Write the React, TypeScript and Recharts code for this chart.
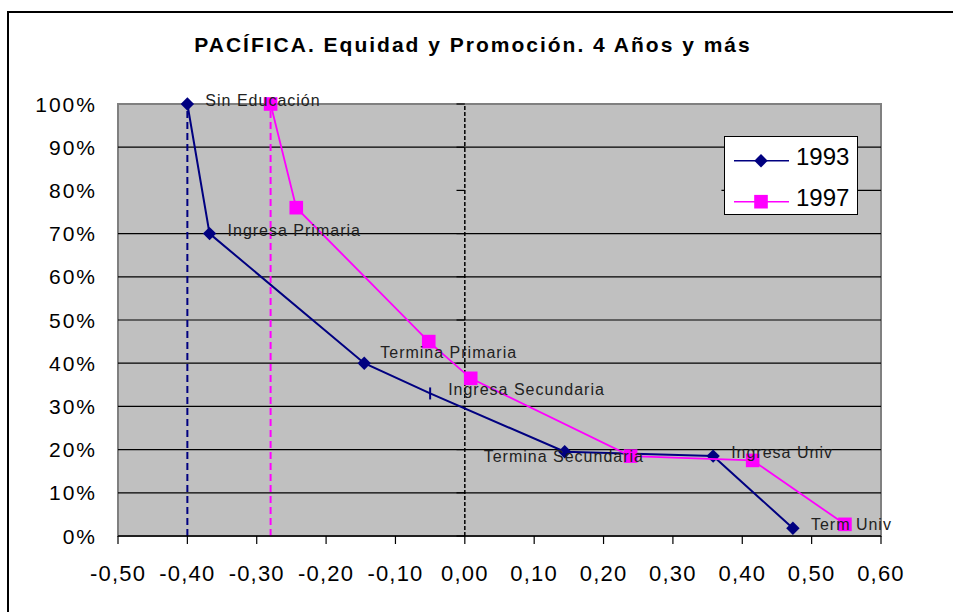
import React from 'react'
import {
  ScatterChart,
  Scatter,
  XAxis,
  YAxis,
  ReferenceLine,
  ReferenceArea
} from 'recharts'

const categories = [
  'Sin Educación',
  'Ingresa Primaria',
  'Termina Primaria',
  'Ingresa Secundaria',
  'Termina Secundaria',
  'Ingresa Univ',
  'Term Univ'
]
const x1993 = [-0.4, -0.368, -0.145, -0.05, 0.144, 0.358, 0.473]
const y1993 = [100, 70, 40, 33, 19.5, 18.5, 1.8]
const x1997 = [-0.28, -0.243, -0.052, 0.0085, 0.239, 0.415, 0.548]
const y1997 = [100, 76, 45, 36.5, 18.5, 17.5, 2.7]

const xTicks = [-0.5, -0.4, -0.3, -0.2, -0.1, 0, 0.1, 0.2, 0.3, 0.4, 0.5, 0.6]
const yTicks = [0, 10, 20, 30, 40, 50, 60, 70, 80, 90, 100]
// 80% gridline only shows to the right of the legend in the original
const gridValues = [10, 20, 30, 40, 50, 60, 70, 90]

const start1993 = -0.4
const start1997 = -0.28

const NAVY = '#000080'
const MAGENTA = '#FF00FF'
const FONT = '"Liberation Sans", Arial, sans-serif'

const data1993 = categories.map((name, i) => ({ name, x: x1993[i], y: y1993[i] }))
const data1997 = categories.map((name, i) => ({ name, x: x1997[i], y: y1997[i] }))

// label nudges (px) relative to the point, default is right of the marker
const labelNudge: Record<string, [number, number]> = {
  'Termina Primaria': [16, -5],
  'Termina Secundaria': [-81, 10]
}

function DiamondShape(props: any) {
  const { cx, cy, payload } = props
  if (payload && payload.name === 'Ingresa Secundaria') {
    return <line x1={cx} x2={cx} y1={cy - 6} y2={cy + 6} stroke={NAVY} strokeWidth={2} />
  }
  const r = 6.7
  return (
    <polygon
      points={`${cx},${cy - r} ${cx + r},${cy} ${cx},${cy + r} ${cx - r},${cy}`}
      fill={NAVY}
    />
  )
}

function SquareShape(props: any) {
  const { cx, cy } = props
  const r = 6.8
  return <rect x={cx - r} y={cy - r} width={r * 2} height={r * 2} fill={MAGENTA} />
}

function LabelShape(props: any) {
  const { cx, cy, payload } = props
  const [dx, dy] = labelNudge[payload.name] || [18, 2]
  return (
    <text
      x={cx + dx}
      y={cy + dy}
      fontSize={16}
      letterSpacing={1}
      fill="#222"
      fontFamily={FONT}
    >
      {payload.name}
    </text>
  )
}

function XTick(props: any) {
  const { x, y, payload } = props
  const label = payload.value.toFixed(2).replace('.', ',')
  return (
    <text x={x} y={y} dy={35} textAnchor="middle" fontSize={22} letterSpacing={1.2} fill="#000" fontFamily={FONT}>
      {label}
    </text>
  )
}

function YTick(props: any) {
  const { x, y, payload } = props
  return (
    <text x={x + 2} y={y} dy={7.5} textAnchor="end" fontSize={21} letterSpacing={2} fill="#000" fontFamily={FONT}>
      {payload.value}%
    </text>
  )
}

function LegendBox() {
  return (
    <div
      style={{
        position: 'absolute',
        left: 724,
        top: 136,
        width: 134,
        height: 79,
        boxSizing: 'border-box',
        border: '1.5px solid #000',
        background: '#fff'
      }}
    >
      <svg width={134} height={79} style={{ position: 'absolute', left: -1.5, top: -1.5 }}>
        <line x1={10} x2={65} y1={24.7} y2={24.7} stroke={NAVY} strokeWidth={1.5} />
        <DiamondShape cx={37} cy={24.7} payload={{}} />
        <text x={72} y={29} fontSize={24} fontFamily={FONT} fill="#000">1993</text>
        <line x1={10} x2={65} y1={65.7} y2={65.7} stroke={MAGENTA} strokeWidth={1.5} />
        <SquareShape cx={37} cy={65.7} />
        <text x={72} y={70} fontSize={24} fontFamily={FONT} fill="#000">1997</text>
      </svg>
    </div>
  )
}

export default function App() {
  return (
    <div
      style={{
        position: 'absolute',
        left: 0,
        top: 0,
        width: 953,
        height: 612,
        overflow: 'hidden',
        background: '#fff',
        fontFamily: FONT
      }}
    >
      <div
        style={{
          position: 'absolute',
          left: 7,
          top: 11,
          width: 990,
          height: 700,
          border: '2px solid #000'
        }}
      />
      <div
        style={{
          position: 'absolute',
          left: 0,
          top: 33,
          width: 946,
          textAlign: 'center',
          fontSize: 21,
          lineHeight: '24px',
          fontWeight: 'bold',
          letterSpacing: 2,
          color: '#000'
        }}
      >
        PACÍFICA. Equidad y Promoción. 4 Años y más
      </div>
      <ScatterChart
        width={953}
        height={612}
        margin={{ top: 104, right: 72, bottom: 0, left: 0 }}
        style={{ position: 'absolute', left: 0, top: 0 }}
      >
        <ReferenceArea
          x1={-0.5}
          x2={0.6}
          y1={0}
          y2={100}
          fill="#C0C0C0"
          fillOpacity={1}
          stroke="#808080"
          strokeWidth={2}
        />
        {gridValues.map((v) => (
          <ReferenceLine key={'g' + v} y={v} stroke="#000" strokeWidth={1.2} />
        ))}
        <ReferenceLine
          segment={[{ x: 0.37, y: 80 }, { x: 0.6, y: 80 }]}
          stroke="#000"
          strokeWidth={1.2}
        />
        <ReferenceLine x={0} stroke="#000" strokeWidth={1.5} strokeDasharray="4 2" />
        {yTicks.map((v) => (
          <ReferenceLine
            key={'t' + v}
            segment={[{ x: -0.012, y: v }, { x: 0, y: v }]}
            stroke="#000"
            strokeWidth={1.2}
          />
        ))}
        <ReferenceLine x={start1993} stroke={NAVY} strokeWidth={2} strokeDasharray="7 4" />
        <ReferenceLine x={start1997} stroke={MAGENTA} strokeWidth={2} strokeDasharray="7 4" />
        <XAxis
          type="number"
          dataKey="x"
          domain={[-0.5, 0.6]}
          ticks={xTicks}
          interval={0}
          height={76}
          tickSize={8}
          tick={<XTick />}
          tickLine={{ stroke: '#000', strokeWidth: 1.2 }}
          axisLine={{ stroke: '#000', strokeWidth: 1.5 }}
        />
        <YAxis
          type="number"
          dataKey="y"
          domain={[0, 100]}
          ticks={yTicks}
          interval={0}
          width={118}
          tickSize={0}
          tickMargin={23}
          tick={<YTick />}
          tickLine={false}
          axisLine={false}
        />
        <Scatter
          name="1993"
          data={data1993}
          line={{ stroke: NAVY, strokeWidth: 2 }}
          lineType="joint"
          shape={<DiamondShape />}
          isAnimationActive={false}
        />
        <Scatter
          name="1997"
          data={data1997}
          line={{ stroke: MAGENTA, strokeWidth: 1.8 }}
          lineType="joint"
          shape={<SquareShape />}
          isAnimationActive={false}
        />
        <Scatter
          name="labels"
          data={data1993}
          shape={<LabelShape />}
          isAnimationActive={false}
        />
      </ScatterChart>
      <LegendBox />
    </div>
  )
}
